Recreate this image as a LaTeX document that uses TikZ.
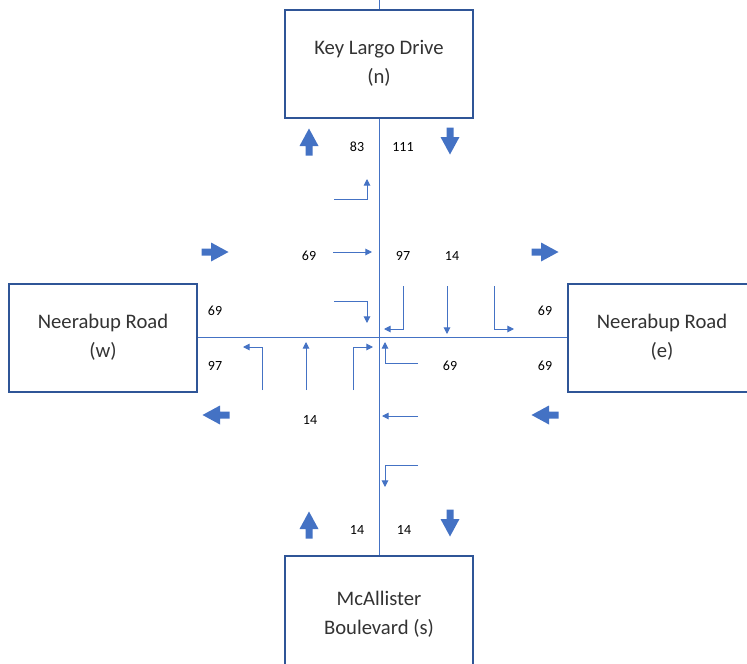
\documentclass[tikz,border=0pt]{standalone}
\usepackage{fontspec}
\setmainfont{Carlito}
\usetikzlibrary{arrows.meta, positioning}

\definecolor{roadblue}{HTML}{4472C4}
\definecolor{boxblue}{HTML}{2F5597}

\begin{document}
\begin{tikzpicture}[
    x=0.75pt, y=-0.75pt, % pixel units, y runs downwards
    >={Triangle[length=5pt, width=5pt]}, % Small arrow tip for the turns
    road/.style={roadblue, line width=0.75pt}, % Centre lines of the roads
    turn/.style={->, roadblue, line width=0.75pt}, % Turning movements
    box/.style={draw=boxblue, line width=1.5pt, fill=white, minimum width=141pt,
        minimum height=81pt, align=center, text=black!80,
        font=\fontsize{15.5}{22}\selectfont}, % Road name boxes
    count/.style={font=\fontsize{10.5}{12}\selectfont}, % Traffic counts
    bigarrow/.pic={\fill[roadblue] (-13.5,-3.5) -- (-4,-3.5) -- (-4,-9.5) -- (13.5,0)
        -- (-4,9.5) -- (-4,3.5) -- (-13.5,3.5) -- cycle;} % Direction of flow
]

    % Fix the page to the reference size
    \useasboundingbox (0,0) rectangle (747,664);

    % --- Road Name Boxes ---
    \node[box] (north) at (379,63.5) {Key Largo Drive\\(n)};
    \node[box] (west)  at (103,337.5) {Neerabup Road\\(w)};
    \node[box] (east)  at (662,337.5) {Neerabup Road\\(e)};
    \node[box, minimum height=87pt] (south) at (379,614) {McAllister\\Boulevard (s)};

    % --- Road Centre Lines ---
    \coordinate (ntop) at (379,0);
    \draw[road] (ntop) -- (north.north);
    \draw[road] (north.south) -- (south.north);
    \draw[road] (west.east) -- (east.west);

    % --- Flow Direction Arrows ---
    \pic[rotate=90]  at (309,142) {bigarrow};
    \pic[rotate=-90] at (450,141) {bigarrow};
    \pic             at (215,252) {bigarrow};
    \pic             at (545,252) {bigarrow};
    \pic[rotate=180] at (216,415) {bigarrow};
    \pic[rotate=180] at (545,415) {bigarrow};
    \pic[rotate=90]  at (309,525) {bigarrow};
    \pic[rotate=-90] at (450,523) {bigarrow};

    % --- Turning Movements ---
    % from the west
    \draw[turn] (334,199) -| (367,179);
    \draw[turn] (333,252) -- (372,252);
    \draw[turn] (334,301) -| (367,323);
    % from the north
    \draw[turn] (403,286) |- (384,329);
    \draw[turn] (447,286) -- (447,334);
    \draw[turn] (494,286) |- (514,329);
    % from the east
    \draw[turn] (418,363) -| (385,342);
    \draw[turn] (418,416) -- (382,416);
    \draw[turn] (418,465) -| (385,487);
    % from the south
    \draw[turn] (262,390) |- (243,347);
    \draw[turn] (306,390) -- (306,342);
    \draw[turn] (353,390) |- (373,347);

    % --- Traffic Counts ---
    \node[count] (c83)  at (357,147) {83};
    \node[count] (c111) at (403,147) {111};
    \node[count] (c69a) at (309,256) {69};
    \node[count] (c97a) at (403,256) {97};
    \node[count] (c14a) at (452,256) {14};
    \node[count] (c69b) at (215,311) {69};
    \node[count] (c97b) at (215,366) {97};
    \node[count] (c69c) at (545,311) {69};
    \node[count] (c69d) at (545,366) {69};
    \node[count] (c69e) at (450,366) {69};
    \node[count] (c14b) at (310,420) {14};
    \node[count] (c14c) at (357,530) {14};
    \node[count] (c14d) at (404,530) {14};

\end{tikzpicture}
\end{document}
